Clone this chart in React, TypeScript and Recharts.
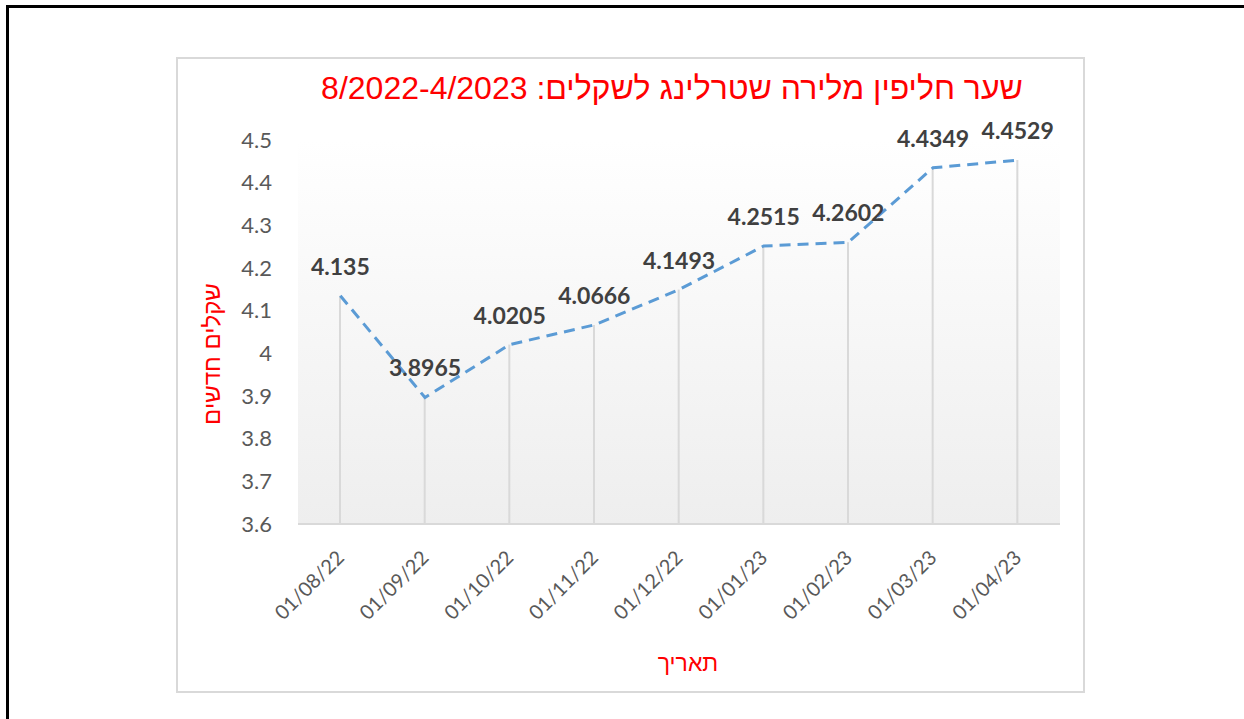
import React from "react";
import {
  ComposedChart,
  Line,
  Bar,
  XAxis,
  YAxis,
  CartesianGrid,
  LabelList,
} from "recharts";

const dates = [
  "01/08/22",
  "01/09/22",
  "01/10/22",
  "01/11/22",
  "01/12/22",
  "01/01/23",
  "01/02/23",
  "01/03/23",
  "01/04/23",
];
const rates = [4.135, 3.8965, 4.0205, 4.0666, 4.1493, 4.2515, 4.2602, 4.4349, 4.4529];
const yTicks = [3.6, 3.7, 3.8, 3.9, 4, 4.1, 4.2, 4.3, 4.4, 4.5];

const chartTitle = "שער חליפין מלירה שטרלינג לשקלים: 8/2022-4/2023";
const yTitle = "שקלים חדשים";
const xTitle = "תאריך";

const data = dates.map((d, i) => ({ date: d, rate: rates[i] }));

const hebFont = "'Liberation Sans', 'DejaVu Sans', sans-serif";
const numFont = "Lato, 'Open Sans', sans-serif";

function DateTick(props: any) {
  const { x, y, payload } = props;
  return (
    <g transform={`translate(${x + 5},${y + 33})`}>
      <text
        textAnchor="end"
        transform="rotate(-45)"
        fontSize={20}
        fontFamily={numFont}
        fill="#595959"
      >
        {payload.value}
      </text>
    </g>
  );
}

export default function App() {
  return (
    <div style={{ position: "absolute", left: 0, top: 0, width: 1244, height: 719, background: "#fff", overflow: "hidden" }}>
      <div
        style={{
          position: "absolute",
          left: 6,
          top: 5,
          width: 1244,
          height: 719,
          borderLeft: "3px solid #000",
          borderTop: "3px solid #000",
        }}
      />
      <div
        style={{
          position: "absolute",
          left: 176,
          top: 57,
          width: 909,
          height: 636,
          boxSizing: "border-box",
          border: "2px solid #d9d9d9",
          background: "#fff",
        }}
      >
        <ComposedChart
          width={905}
          height={632}
          data={data}
          margin={{ top: 81, right: 23, left: 0, bottom: 0 }}
        >
          <defs>
            <linearGradient id="plotBg" x1="0" y1="0" x2="0" y2="1">
              <stop offset="0%" stopColor="#ffffff" />
              <stop offset="100%" stopColor="#eeeeee" />
            </linearGradient>
          </defs>
          <CartesianGrid horizontal={false} vertical={false} fill="url(#plotBg)" />
          <XAxis
            dataKey="date"
            height={167}
            interval={0}
            tickLine={false}
            axisLine={{ stroke: "#d9d9d9", strokeWidth: 2 }}
            tickSize={0}
            tick={<DateTick />}
          />
          <YAxis
            width={120}
            domain={[3.6, 4.5]}
            ticks={yTicks}
            axisLine={false}
            tickLine={false}
            tickSize={0}
            tickMargin={26}
            tick={{ fontSize: 22, fill: "#595959", fontFamily: numFont }}
          />
          <Bar dataKey="rate" barSize={2} fill="#d9d9d9" isAnimationActive={false} />
          <Line
            dataKey="rate"
            type="linear"
            stroke="#5b9bd5"
            strokeWidth={3}
            strokeDasharray="11 7"
            dot={false}
            activeDot={false}
            isAnimationActive={false}
          >
            <LabelList
              dataKey="rate"
              position="top"
              offset={21}
              style={{ fontSize: 23, fontWeight: 700, fill: "#404040", fontFamily: numFont }}
            />
          </Line>
        </ComposedChart>
      </div>
      <div
        style={{
          position: "absolute",
          left: 272,
          width: 800,
          top: 69,
          textAlign: "center",
          direction: "rtl",
          color: "#ff0000",
          fontFamily: hebFont,
          fontSize: 32,
          lineHeight: "38px",
          whiteSpace: "nowrap",
        }}
      >
        {chartTitle}
      </div>
      <div
        style={{
          position: "absolute",
          left: 212,
          top: 354,
          transform: "translate(-50%, -50%) rotate(-90deg)",
          direction: "rtl",
          color: "#ff0000",
          fontFamily: hebFont,
          fontSize: 24,
          lineHeight: "28px",
          whiteSpace: "nowrap",
        }}
      >
        {yTitle}
      </div>
      <div
        style={{
          position: "absolute",
          left: 688,
          top: 663,
          transform: "translate(-50%, -50%)",
          direction: "rtl",
          color: "#ff0000",
          fontFamily: hebFont,
          fontSize: 23,
          lineHeight: "26px",
          whiteSpace: "nowrap",
        }}
      >
        {xTitle}
      </div>
    </div>
  );
}
